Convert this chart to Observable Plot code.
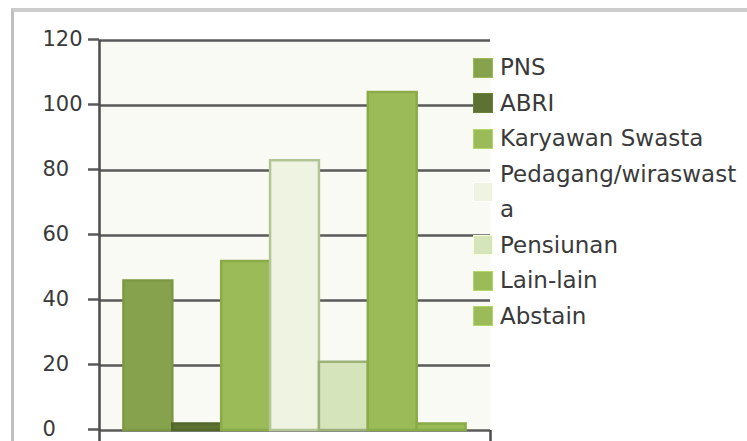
<!DOCTYPE html>
<html>
<head>
<meta charset="utf-8">
<script src="https://cdn.jsdelivr.net/npm/d3@7"></script>
<script src="https://cdn.jsdelivr.net/npm/@observablehq/plot@0.6"></script>
<style>
  html, body { margin: 0; padding: 0; background: #ffffff; }
  #wrap { position: relative; width: 747px; height: 441px; overflow: hidden; font-family: "DejaVu Sans", sans-serif; }
  #border { position: absolute; left: 11px; top: 8px; width: 800px; height: 500px; border-left: 3px solid #bfbfbf; border-top: 4px solid #cdcdcd; box-sizing: border-box; }
  #chart { position: absolute; left: 0; top: 0; }
  #legend { position: absolute; left: 473px; top: 50px; width: 274px; font-size: 23px; line-height: 35.5px; color: #3a3a3a; }
  .item { display: flex; align-items: center; }
  .sw { width: 20px; height: 20px; flex: 0 0 20px; margin-right: 7px; box-sizing: border-box; }
  .lbl { width: 244px; word-break: break-all; }
</style>
</head>
<body>
<div id="wrap">
  <div id="border"></div>
  <div id="chart"></div>
  <div id="legend"></div>
</div>
<script>
const categories = ["PNS", "ABRI", "Karyawan Swasta", "Pedagang/wiraswasta", "Pensiunan", "Lain-lain", "Abstain"];
const values = [46, 2, 52, 83, 21, 104, 2];
const fills = ["#87a24c", "#5d7232", "#9bbb59", "#eef3e2", "#d6e4bc", "#9bbb59", "#9bbb59"];
const strokes = ["#7c9842", "#52672a", "#8aab47", "#b4c595", "#9db27a", "#8aab47", "#8aab47"];
const yTicks = [0, 20, 40, 60, 80, 100, 120];

const data = categories.map((c, i) => ({cat: c, value: values[i], i}));

const plot = Plot.plot({
  width: 747,
  height: 441,
  marginLeft: 99,
  marginRight: 257,
  marginTop: 40,
  marginBottom: 11,
  style: {fontFamily: "DejaVu Sans, sans-serif", fontSize: "21px", color: "#3a3a3a", background: "transparent"},
  x: {type: "linear", domain: [0, categories.length + 1], axis: null},
  y: {domain: [0, 120]},
  marks: [
    Plot.frame({fill: "#f8faf3", stroke: null}),
    Plot.ruleY(yTicks, {x1: 0, x2: categories.length + 1, stroke: "#5a5a5a", strokeWidth: 2.5}),
    Plot.axisY({ticks: yTicks, tickSize: 11, tickPadding: 46, textAnchor: "start", dy: -1, stroke: "#5a5a5a", strokeWidth: 2.5, fill: "#3a3a3a", label: null}),
    Plot.ruleX([0], {y1: -3.4, y2: 120, stroke: "#4c4c4c", strokeWidth: 2.5}),
    Plot.ruleX([categories.length + 1], {y1: -3.4, y2: 0, stroke: "#4c4c4c", strokeWidth: 2.5}),
    Plot.rectY(data, {
      x1: d => d.i + 0.5,
      x2: d => d.i + 1.5,
      y1: 0,
      y2: "value",
      fill: d => fills[d.i],
      stroke: d => strokes[d.i],
      strokeWidth: 2.5
    })
  ]
});
document.getElementById("chart").appendChild(plot);

const legend = d3.select("#legend");
categories.forEach((c, i) => {
  const item = legend.append("div").attr("class", "item");
  item.append("div").attr("class", "sw").style("background", fills[i]).style("border", "1px solid " + d3.color(fills[i]).brighter(0.4));
  item.append("div").attr("class", "lbl").text(c);
});
</script>
</body>
</html>
